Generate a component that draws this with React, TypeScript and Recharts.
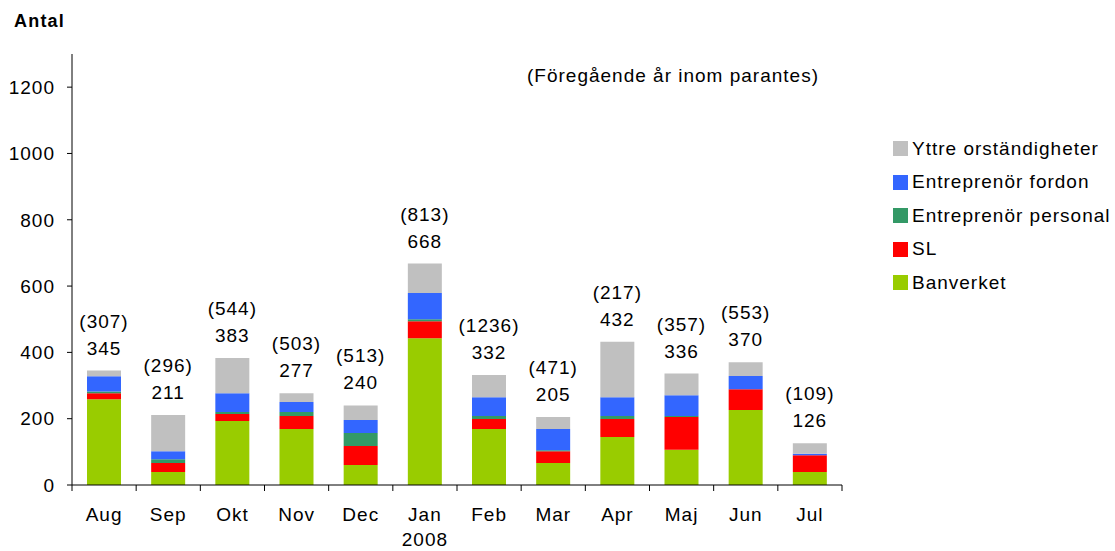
import React from 'react';
import { BarChart, Bar, XAxis, YAxis, LabelList } from 'recharts';

const months = ['Aug', 'Sep', 'Okt', 'Nov', 'Dec', 'Jan', 'Feb', 'Mar', 'Apr', 'Maj', 'Jun', 'Jul'];
const banverket = [259, 39, 193, 169, 60, 443, 169, 66, 145, 106, 226, 39];
const sl = [18, 27, 21, 39, 58, 51, 30, 36, 54, 99, 63, 51];
const personal = [5, 12, 6, 12, 39, 6, 9, 3, 9, 3, 0, 0];
const fordon = [46, 24, 57, 30, 39, 79, 57, 64, 57, 63, 40, 4];
const yttre = [17, 109, 106, 27, 44, 89, 67, 36, 167, 65, 41, 32];
const totals = [345, 211, 383, 277, 240, 668, 332, 205, 432, 336, 370, 126];
const previous = [307, 296, 544, 503, 513, 813, 1236, 471, 217, 357, 553, 109];
const yTicks = [0, 200, 400, 600, 800, 1000, 1200];

const series = [
  { key: 'banverket', name: 'Banverket', color: '#99CC00' },
  { key: 'sl', name: 'SL', color: '#FF0000' },
  { key: 'personal', name: 'Entreprenör personal', color: '#339966' },
  { key: 'fordon', name: 'Entreprenör fordon', color: '#3366FF' },
  { key: 'yttre', name: 'Yttre orständigheter', color: '#C0C0C0' },
];

const data = months.map((m, i) => ({
  month: m,
  banverket: banverket[i],
  sl: sl[i],
  personal: personal[i],
  fordon: fordon[i],
  yttre: yttre[i],
  total: String(totals[i]),
  prev: '(' + previous[i] + ')',
}));

const FONT = '"Liberation Sans", Arial, sans-serif';
const FS = 19;
const LS = 1;
const HALF_BAND = 770 / 24;

const XTick = (props: any) => {
  const { x, payload, index } = props;
  return (
    <g>
      <line x1={x - HALF_BAND} x2={x - HALF_BAND} y1={485} y2={491} stroke="#000" strokeWidth={1} />
      {index === months.length - 1 && (
        <line x1={x + HALF_BAND} x2={x + HALF_BAND} y1={485} y2={491} stroke="#000" strokeWidth={1} />
      )}
      <text x={x} y={521} textAnchor="middle" fontSize={FS} fontFamily={FONT} fill="#000" letterSpacing={LS}>
        {payload.value}
      </text>
      {payload.value === 'Jan' && (
        <text x={x} y={546} textAnchor="middle" fontSize={FS} fontFamily={FONT} fill="#000" letterSpacing={LS}>
          2008
        </text>
      )}
    </g>
  );
};

const makeLabel = (dy: number) => (props: any) => {
  const { x, y, width, value } = props;
  return (
    <text x={Number(x) + Number(width) / 2} y={Number(y) - dy} textAnchor="middle" fontSize={FS} fontFamily={FONT} fill="#000" letterSpacing={LS}>
      {value}
    </text>
  );
};

export default function App() {
  return (
    <div style={{ position: 'absolute', left: 0, top: 0, width: 1115, height: 551, background: '#fff', fontFamily: FONT }}>
      <div style={{ position: 'absolute', left: 14, top: 11, fontSize: 18, fontWeight: 'bold', letterSpacing: 1.2, lineHeight: '21px' }}>Antal</div>
      <div style={{ position: 'absolute', left: 527, top: 65, fontSize: FS, letterSpacing: LS, lineHeight: '22px' }}>(Föregående år inom parantes)</div>
      <div style={{ position: 'absolute', left: 893, top: 132, fontSize: FS, color: '#000' }}>
        {[...series].reverse().map((s) => (
          <div key={s.key} style={{ display: 'flex', alignItems: 'center', height: 33.5, letterSpacing: LS }}>
            <span style={{ display: 'inline-block', width: 15, height: 15, background: s.color, marginRight: 4 }} />
            <span>{s.name}</span>
          </div>
        ))}
      </div>
      <BarChart
        width={1115}
        height={551}
        data={data}
        margin={{ top: 54, right: 273, left: 0, bottom: 0 }}
        barSize={34}
        style={{ position: 'absolute', left: 0, top: 0 }}
      >
        <XAxis
          dataKey="month"
          height={66}
          tickLine={false}
          axisLine={{ stroke: '#000' }}
          tick={<XTick />}
          interval={0}
        />
        <YAxis
          width={72}
          domain={[0, 1300]}
          ticks={yTicks}
          tickSize={5}
          tickMargin={12}
          axisLine={{ stroke: '#000' }}
          tickLine={{ stroke: '#000' }}
          tick={{ fontSize: FS, fill: '#000', fontFamily: FONT, letterSpacing: LS }}
          interval={0}
        />
        {series.map((s) => (
          <Bar key={s.key} dataKey={s.key} name={s.name} stackId="a" fill={s.color} isAnimationActive={false}>
            {s.key === 'yttre' && <LabelList dataKey="total" content={makeLabel(16)} />}
            {s.key === 'yttre' && <LabelList dataKey="prev" content={makeLabel(43)} />}
          </Bar>
        ))}
      </BarChart>
    </div>
  );
}
